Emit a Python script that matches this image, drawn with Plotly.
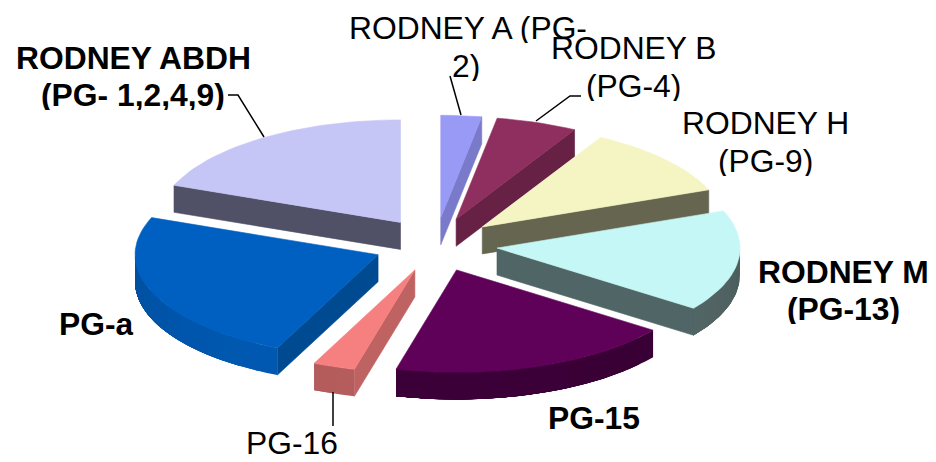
import math
import plotly.graph_objects as go

# ---- data (percent share, clockwise from 12 o'clock) ----
categories = ["RODNEY A (PG-2)", "RODNEY B (PG-4)", "RODNEY H (PG-9)", "RODNEY M (PG-13)",
              "PG-15", "PG-16", "PG-a", "RODNEY ABDH (PG- 1,2,4,9)"]
values = [2.7, 5.4, 11.0, 15.9, 19.0, 2.8, 24.1, 19.1]
top_colors = ["#9999F6", "#8F2F5F", "#F5F5C4", "#C4F7F5", "#5F0059", "#F67F7F", "#0060C1", "#C6C6F6"]
wall_colors = ["#7A7ACB", "#662144", "#666650", "#506565", "#2D002A", "#BF6262", "#004A92", "#505066"]
rim_colors = ["#7A7ACB", "#662144", "#666650", "#5A6E6E", "#3C0038", "#B55C5C", "#0059B2", "#505066"]

label_lines = [
    ("RODNEY A (PG-", 468, 28, False), ("2)", 466, 66, False),
    ("RODNEY B", 634, 48, False), ("(PG-4)", 633, 86, False),
    ("RODNEY H", 765, 123, False), ("(PG-9)", 765, 161, False),
    ("RODNEY M", 843, 272, True), ("(PG-13)", 843, 309, True),
    ("PG-15", 594, 418, True), ("PG-16", 292, 443, False),
    ("PG-a", 96, 324, True),
    ("RODNEY ABDH", 133, 58, True), ("(PG- 1,2,4,9)", 133, 95, True),
]
leaders = [
    ([450, 461], [76, 115]),
    ([536, 570, 581], [121, 96, 96]),
    ([228, 238, 264], [95, 95, 137]),
    ([333, 333], [392, 426]),
]

# ---- projection of the tilted, exploded pie ----
CX, CY, RX, RY = 435.5, 244.6, 243, 102.5
EX, EY, DEPTH = 62, 26.9, 27
FONT = "Liberation Sans, Arial, sans-serif"


def ring(tip, t):
    r = math.radians(t)
    return tip[0] + RX * math.sin(r), tip[1] - RY * math.cos(r)


def poly(fig, pts, color, name, width=0.6):
    xs = [p[0] for p in pts] + [pts[0][0]]
    ys = [p[1] for p in pts] + [pts[0][1]]
    fig.add_trace(go.Scatter(x=xs, y=ys, mode="lines", fill="toself", fillcolor=color,
                             line=dict(color=color, width=width), name=name,
                             hoverinfo="name", showlegend=False))


def shade(hex_color, k):
    c = [int(hex_color[i:i + 2], 16) for i in (1, 3, 5)]
    return "rgb({},{},{})".format(*[min(255, round(v * k)) for v in c])


fig = go.Figure()
total = sum(values)
slices = []
start = 0.0
for i, v in enumerate(values):
    end = start + 360 * v / total
    slices.append((i, start, end))
    start = end

# back-to-front painter's order
slices.sort(key=lambda s: -math.cos(math.radians((s[1] + s[2]) / 2)))

for i, a, b in slices:
    mid = math.radians((a + b) / 2)
    tip = (CX + EX * math.sin(mid), CY - EY * math.cos(mid))
    name = categories[i]
    inner = ring(tip, (a + b) / 2)

    # radial walls that face the viewer
    for t in (a, b):
        p = ring(tip, t)
        dx = p[0] - tip[0]
        if abs(dx) < 1e-6:
            continue
        line_y = tip[1] + (p[1] - tip[1]) * (inner[0] - tip[0]) / dx
        if inner[1] < line_y:
            poly(fig, [tip, p, (p[0], p[1] + DEPTH), (tip[0], tip[1] + DEPTH)], wall_colors[i], name)

    # outer rim, lower half only: each band runs under the next one so no seams show
    lo, hi = max(a, 90), min(b, 270)
    if hi > lo:
        n = max(2, int((hi - lo) / 5))
        for k in range(n):
            t0 = lo + (hi - lo) * k / n
            t_mid = lo + (hi - lo) * (k + 0.5) / n
            rim = [ring(tip, t0 + (hi - t0) * j / 24) for j in range(25)]
            rim_low = [(x, y + DEPTH) for x, y in reversed(rim)]
            light = 0.86 + 0.14 * math.cos(math.radians(t_mid - 190))
            poly(fig, rim + rim_low, shade(rim_colors[i], light), name, width=0)

    # top face
    n = max(4, int((b - a) / 2))
    pts = [tip] + [ring(tip, a + (b - a) * k / n) for k in range(n + 1)]
    poly(fig, pts, top_colors[i], name)

for xs, ys in leaders:
    fig.add_trace(go.Scatter(x=xs, y=ys, mode="lines", line=dict(color="#000000", width=1.5),
                             hoverinfo="skip", showlegend=False))

for text, x, y, bold in label_lines:
    fig.add_annotation(x=x, y=y, text=f"<b>{text}</b>" if bold else text, showarrow=False,
                       xanchor="center", yanchor="middle", height=30,
                       font=dict(family=FONT, size=31.8, color="#000000"))

fig.update_xaxes(range=[0, 936], visible=False, fixedrange=True)
fig.update_yaxes(range=[462, 0], visible=False, fixedrange=True)
fig.update_layout(width=936, height=462, margin=dict(l=0, r=0, t=0, b=0),
                  paper_bgcolor="#FFFFFF", plot_bgcolor="#FFFFFF", showlegend=False)
fig.write_html("out.html", config={"displayModeBar": False},
               post_script="document.body.style.margin='0';document.body.style.overflow='hidden';")
